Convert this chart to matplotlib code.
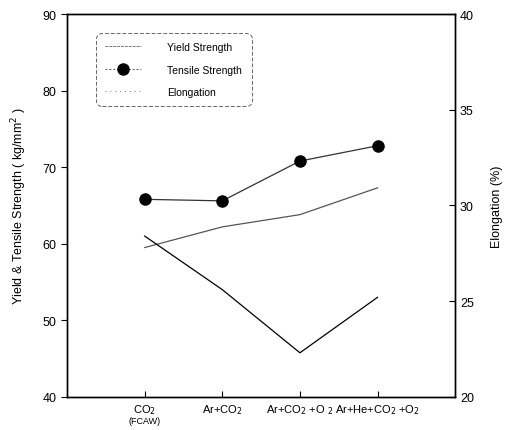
import numpy as np
import matplotlib.pyplot as plt
from matplotlib.lines import Line2D

plt.rcParams['font.family'] = ['Liberation Sans', 'DejaVu Sans']

# data
processes = ['CO$_2$', 'Ar+CO$_2$', 'Ar+CO$_2$ +O $_2$', 'Ar+He+CO$_2$ +O$_2$']
yield_strength = [59.5, 62.2, 63.8, 67.3]
tensile_strength = [65.8, 65.6, 70.8, 72.8]
elongation = [28.4, 25.6, 22.3, 25.2]

x = np.arange(len(processes))

fig = plt.figure(figsize=(5.08, 4.31), dpi=100)
ax = fig.add_axes([0.132, 0.077, 0.764, 0.888])
ax2 = ax.twinx()

ax.plot(x, yield_strength, color='#555555', lw=0.9)
ax.plot(x, tensile_strength, color='#333333', lw=0.9, marker='o', markersize=8,
        markerfacecolor='black', markeredgecolor='black')
ax2.plot(x, elongation, color='black', lw=0.9)

ax.set_xlim(-1, 4)
ax.set_ylim(40, 90)
ax2.set_ylim(20, 40)
ax.set_yticks([40, 50, 60, 70, 80, 90])
ax2.set_yticks([20, 25, 30, 35, 40])
ax.set_xticks(x)
ax.set_xticklabels(processes, fontsize=8)
ax.annotate('(FCAW)', xy=(0, 0), xycoords=ax.get_xaxis_transform(), xytext=(0, -14),
            textcoords='offset points', ha='center', va='top', fontsize=6.5)

ax.tick_params(axis='y', direction='out', labelsize=9, length=4)
ax.tick_params(axis='x', direction='in', length=4, pad=4)
ax2.tick_params(axis='y', direction='in', labelsize=9, length=4)

ax.set_ylabel('Yield & Tensile Strength ( kg/mm$^2$ )', fontsize=9, labelpad=10)
ax2.set_ylabel('Elongation (%)', fontsize=9, labelpad=12)

for a in (ax, ax2):
    for s in a.spines.values():
        s.set_linewidth(1.0)

handles = [Line2D([], [], color='#777777', lw=0.7, ls=(0, (3, 1))),
           Line2D([], [], color='#555555', lw=0.7, ls=(0, (2, 2)), marker='o', markersize=8,
                  markerfacecolor='black', markeredgecolor='black'),
           Line2D([], [], color='#777777', lw=0.7, ls=(0, (1, 4)))]
leg = ax.legend(handles, ['Yield Strength', 'Tensile Strength', 'Elongation'],
                loc='upper left', bbox_to_anchor=(0.06, 0.965), fontsize=7.5,
                handlelength=3.5, labelspacing=1.2, borderpad=0.9, handletextpad=2.5,
                fancybox=True, framealpha=1)
leg.get_frame().set_edgecolor('#666666')
leg.get_frame().set_linestyle((0, (4, 2)))
leg.get_frame().set_linewidth(0.7)
leg.get_frame().set_boxstyle('round,pad=0,rounding_size=0.6')

plt.savefig('out.png', dpi=100)
